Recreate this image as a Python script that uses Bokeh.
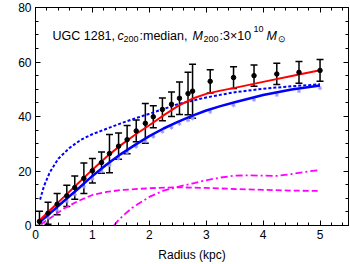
import math
from bokeh.plotting import figure
from bokeh.models import (ColumnDataSource, LinearAxis, SingleIntervalTicker, Whisker,
                          TeeHead, Label, Range1d)
from bokeh.embed import file_html
from bokeh.resources import INLINE

# ---- data ----
r_obs = [0.07, 0.22, 0.38, 0.55, 0.69, 0.85, 1.00, 1.16, 1.30, 1.46, 1.61, 1.77, 1.93,
         2.07, 2.23, 2.39, 2.53, 2.68, 2.76, 3.07, 3.48, 3.84, 4.24, 4.63, 5.00]
v_obs = [1.5, 4.5, 7.8, 10.9, 13.9, 17.3, 20.1, 23.1, 26.4, 29.1, 31.5, 34.7, 37.5,
         39.9, 42.6, 44.5, 46.7, 48.4, 49.3, 52.9, 54.3, 55.0, 55.6, 56.2, 56.9]
e_obs = [3.7, 4.0, 3.9, 3.9, 4.3, 5.6, 4.5, 3.9, 7.0, 4.8, 5.2, 4.0, 7.3,
         4.0, 4.2, 4.5, 6.0, 7.8, 9.9, 4.3, 4.0, 3.9, 3.9, 4.0, 4.0]

r_fit = [0.05, 0.25, 0.5, 0.75, 1.0, 1.25, 1.5, 1.75, 2.0, 2.25, 2.5, 2.75, 3.0, 3.25, 3.5, 4.0, 4.5, 5.0]
v_total = [1.5, 5.5, 10.5, 15.5, 20.5, 25.2, 29.5, 33.3, 36.8, 40.4, 43.8, 46.5, 48.3, 49.5, 50.5, 52.7, 54.9, 57.0]
v_blue = [0.8, 4.4, 9.0, 13.5, 18.2, 22.4, 26.2, 29.6, 32.8, 35.6, 38.0, 40.2, 42.2, 43.8, 45.2, 47.9, 49.9, 51.4]

r_star = [0.22, 0.38, 0.55, 0.69, 0.85, 1.00, 1.16, 1.30, 1.46, 1.61, 1.77, 1.93,
          2.07, 2.23, 2.39, 2.53, 2.68, 2.76, 3.07, 3.48, 3.84, 4.24, 4.63, 5.00]
v_star = [2.9, 5.6, 8.9, 11.4, 14.2, 17.2, 19.9, 22.2, 24.6, 26.7, 28.9, 30.9,
          32.6, 34.4, 35.9, 37.3, 38.6, 39.3, 41.7, 44.1, 46.1, 47.9, 49.3, 50.4]

r_dot = [0.08, 0.15, 0.25, 0.4, 0.6, 0.8, 1.0, 1.25, 1.5, 1.75, 2.0, 2.5, 3.0, 3.5, 4.0, 4.5, 5.0]
v_dot = [9.5, 14.5, 19.5, 24.5, 28.5, 31.5, 33.5, 35.5, 37.5, 39.3, 41.0, 44.5, 47.0, 48.9, 50.2, 51.1, 51.8]

r_dash = [0.1, 0.25, 0.5, 0.75, 1.0, 1.25, 1.5, 2.0, 2.5, 3.0, 3.5, 4.0, 4.5, 5.0]
v_dash = [0.5, 2.6, 6.2, 9.0, 11.2, 12.3, 13.0, 13.7, 14.0, 13.8, 13.4, 13.1, 12.8, 12.7]

r_dd = [1.38, 1.45, 1.55, 1.7, 2.0, 2.25, 2.5, 2.75, 3.0, 3.25, 3.5, 3.75, 4.0, 4.25, 4.5, 4.75, 5.0]
v_dd = [0.0, 1.8, 3.8, 6.5, 10.5, 12.8, 14.2, 15.4, 16.6, 17.6, 18.3, 18.4, 18.3, 18.2, 18.9, 19.7, 20.4]

FONT = "Liberation Sans"

p = figure(width=350, height=264, output_backend="svg", toolbar_location=None,
           x_range=Range1d(0, 5.5), y_range=Range1d(0, 80),
           min_border_left=35, min_border_right=2, min_border_top=7, min_border_bottom=38,
           x_axis_location=None, y_axis_location=None)
p.grid.visible = False
p.outline_line_color = "black"
p.outline_line_width = 1
p.background_fill_color = "white"
p.border_fill_color = "white"

def style_axis(ax, labels=True):
    ax.axis_line_color = "black"
    ax.major_tick_in = 5
    ax.major_tick_out = 0
    ax.minor_tick_in = 3
    ax.minor_tick_out = 0
    ax.major_tick_line_color = "black"
    ax.minor_tick_line_color = "black"
    ax.major_label_standoff = 4
    ax.major_label_text_font = FONT
    ax.major_label_text_font_size = "12px"
    ax.major_label_text_color = "black"
    if not labels:
        ax.major_label_text_font_size = "0px"
        ax.major_label_text_color = None
        ax.major_label_standoff = 0

xb = LinearAxis(ticker=SingleIntervalTicker(interval=1, num_minor_ticks=5))
style_axis(xb)
xb.axis_label = "Radius (kpc)"
xb.axis_label_text_font = FONT
xb.axis_label_text_font_style = "normal"
xb.axis_label_text_font_size = "12px"
xb.axis_label_text_color = "black"
xb.axis_label_standoff = 6
p.add_layout(xb, "below")

yl = LinearAxis(ticker=SingleIntervalTicker(interval=20, num_minor_ticks=4))
style_axis(yl)
p.add_layout(yl, "left")

xt = LinearAxis(ticker=SingleIntervalTicker(interval=1, num_minor_ticks=5))
style_axis(xt, labels=False)
p.add_layout(xt, "above")

yr = LinearAxis(ticker=SingleIntervalTicker(interval=20, num_minor_ticks=4))
style_axis(yr, labels=False)
p.add_layout(yr, "right")

# ---- curves ----
p.line(r_dash, v_dash, line_color="#ff00ff", line_width=1.8, line_dash="6 3")
p.line(r_dd, v_dd, line_color="#ff00ff", line_width=1.8, line_dash="7 3 2 3")
p.line(r_dot, v_dot, line_color="#0000ff", line_width=2, line_dash="3 2")
p.scatter(r_star, v_star, marker="asterisk", size=4, line_color="#9a9aff", line_width=1)
p.line(r_fit, v_blue, line_color="#0000ff", line_width=2.5)
p.line(r_fit, v_total, line_color="#ff0000", line_width=2)

# ---- data with error bars ----
src = ColumnDataSource(dict(r=r_obs, v=v_obs,
                            lo=[max(v - e, 0) for v, e in zip(v_obs, e_obs)],
                            hi=[v + e for v, e in zip(v_obs, e_obs)]))
wh = Whisker(source=src, base="r", lower="lo", upper="hi", line_color="black", line_width=1.5,
             upper_head=TeeHead(size=7, line_color="black", line_width=1.5),
             lower_head=TeeHead(size=7, line_color="black", line_width=1.5))
p.add_layout(wh)
p.scatter("r", "v", source=src, size=4.5, color="black")

# ---- texts (screen units relative to frame bottom-left) ----
def lab(x, y, t, size="12px", style="normal", angle=0.0, align="left"):
    p.add_layout(Label(x=x, y=y, x_units="screen", y_units="screen", text=t,
                       text_font=FONT, text_font_size=size, text_font_style=style,
                       text_color="black", text_align=align, text_baseline="alphabetic",
                       angle=angle))

ty = 190
lab(17, ty, "UGC 1281,", size="12.5px")
lab(82, ty, "c", style="italic", size="12.5px")
lab(88, ty - 3.5, "200", size="9px")
lab(104, ty, ":median,", size="12.5px")
lab(157, ty, "M", style="italic", size="12.5px")
lab(168, ty - 3.5, "200", size="9px")
lab(184, ty, ":3\u00d710", size="12.5px")
lab(218, ty + 7, "10", size="9px")
lab(231, ty, "M", style="italic", size="12.5px")
lab(242, ty - 3.5, "\u2299", size="9px")

# y axis label (rotated)
a = math.pi / 2
lab(-23, 65, "V", style="italic", angle=a)
lab(-20, 75, "cir", size="9px", angle=a)
lab(-23, 87, "(km/s)", angle=a)

open("out.html", "w").write(file_html(p, INLINE))
